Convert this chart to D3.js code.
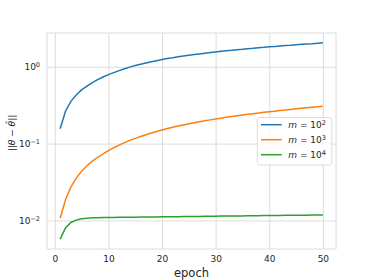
<!DOCTYPE html>
<html>
<head>
<meta charset="utf-8">
<script src="https://cdn.jsdelivr.net/npm/d3@7"></script>
<style>
  body { margin: 0; background: #fff; }
  text { font-family: "DejaVu Sans", sans-serif; fill: #262626; }
</style>
</head>
<body>
<div id="chart"></div>
<script>
// values, one per epoch (1..50)
var epochs = d3.range(1, 51);
var m1e2 = [0.156, 0.264, 0.355, 0.43, 0.50, 0.56, 0.62, 0.68, 0.735, 0.79,
            0.84, 0.89, 0.94, 0.99, 1.04, 1.08, 1.12, 1.16, 1.20, 1.24,
            1.28, 1.31, 1.35, 1.38, 1.41, 1.44, 1.47, 1.50, 1.53, 1.56,
            1.59, 1.62, 1.64, 1.67, 1.69, 1.72, 1.74, 1.77, 1.79, 1.82,
            1.84, 1.87, 1.89, 1.91, 1.94, 1.96, 1.98, 2.00, 2.03, 2.05];
var m1e3 = [0.0107, 0.0186, 0.0272, 0.0355, 0.0436, 0.0514, 0.0590, 0.0664, 0.0737, 0.0810,
            0.0884, 0.0957, 0.1029, 0.1100, 0.1170, 0.1239, 0.1307, 0.1374, 0.1440, 0.1505,
            0.1568, 0.1630, 0.1691, 0.1751, 0.1810, 0.1868, 0.1925, 0.1981, 0.2036, 0.2090,
            0.2143, 0.2196, 0.2248, 0.2300, 0.2351, 0.2402, 0.2452, 0.2501, 0.2550, 0.2598,
            0.2646, 0.2693, 0.2740, 0.2786, 0.2832, 0.2877, 0.2922, 0.2966, 0.3010, 0.3053];
var m1e4 = [0.0057, 0.0080, 0.0094, 0.0101, 0.0105, 0.0107, 0.0108, 0.01085, 0.0109, 0.01093,
            0.01095, 0.01097, 0.01099, 0.01101, 0.01103, 0.01105, 0.01108, 0.01110, 0.01112, 0.01114,
            0.01116, 0.01118, 0.01120, 0.01123, 0.01125, 0.01127, 0.01129, 0.01131, 0.01133, 0.01136,
            0.01138, 0.01140, 0.01142, 0.01144, 0.01146, 0.01149, 0.01151, 0.01153, 0.01155, 0.01157,
            0.01159, 0.01162, 0.01164, 0.01166, 0.01168, 0.01170, 0.01172, 0.01175, 0.01177, 0.01180];
var seriesNames = ["2", "3", "4"];   // exponent in m = 10^k
var colors = ["#1f77b4", "#ff7f0e", "#2ca02c"];
var xTicks = [0, 10, 20, 30, 40, 50];
var yTicks = [0.01, 0.1, 1];
var yTickExp = ["\u22122", "\u22121", "0"];

var allSeries = [m1e2, m1e3, m1e4];

//Dimensions and Margins
var margin = { top: 33, right: 38, bottom: 31, left: 47 },
    width = 374 - margin.left - margin.right,
    height = 280 - margin.top - margin.bottom;

var svg = d3.select("#chart")
    .append("svg")
    .attr("width", 374)
    .attr("height", 280)
    .append("g")
    .attr("transform", "translate(" + margin.left + "," + margin.top + ")");

//X scale with matplotlib style 5% margins
var xpad = (50 - 1) * 0.05;
var x = d3.scaleLinear()
    .domain([1 - xpad, 50 + xpad])
    .range([0, width]);

//Y log scale, 5% margin in log space
var allVals = [].concat(m1e2, m1e3, m1e4);
var lo = Math.log10(d3.min(allVals)), hi = Math.log10(d3.max(allVals));
var lpad = (hi - lo) * 0.05;
var y = d3.scaleLog()
    .domain([Math.pow(10, lo - lpad), Math.pow(10, hi + lpad)])
    .range([height, 0]);

//Grid + x axis
var gx = svg.append("g")
    .attr("transform", "translate(0," + height + ")")
    .call(d3.axisBottom(x).tickValues(xTicks).tickSize(-height).tickPadding(7).tickFormat(d3.format("d")));
gx.select(".domain").remove();
gx.selectAll("line").attr("stroke", "#dcdcdc").attr("stroke-width", 1);
gx.selectAll("text").style("font-size", "9px").attr("fill", "#262626");

//Grid + y axis
var gy = svg.append("g")
    .call(d3.axisLeft(y).tickValues(yTicks).tickSize(-width).tickPadding(7).tickFormat(""));
gy.select(".domain").remove();
gy.selectAll("line").attr("stroke", "#dcdcdc").attr("stroke-width", 1);
gy.selectAll(".tick text").each(function (d, i) {
    var t = d3.select(this).style("font-size", "9px").attr("fill", "#262626");
    t.append("tspan").text("10");
    t.append("tspan").attr("dy", "-0.45em").style("font-size", "6.5px").text(yTickExp[i]);
});

//Frame
svg.append("rect")
    .attr("width", width)
    .attr("height", height)
    .attr("fill", "none")
    .attr("stroke", "#dcdcdc")
    .attr("stroke-width", 1);

//Lines
var line = d3.line()
    .x(function (d, i) { return x(epochs[i]); })
    .y(function (d) { return y(d); });

svg.selectAll(".series")
    .data(allSeries)
    .enter()
    .append("path")
    .attr("d", line)
    .attr("fill", "none")
    .attr("stroke", function (d, i) { return colors[i]; })
    .attr("stroke-width", 1.5);

//Legend
var legend = svg.append("g")
    .attr("transform", "translate(" + (width - 78.7) + "," + (117.5 - margin.top) + ")");
legend.append("rect")
    .attr("width", 74.5)
    .attr("height", 47.5)
    .attr("rx", 2.5)
    .attr("fill", "white")
    .attr("fill-opacity", 0.8)
    .attr("stroke", "#dcdcdc")
    .attr("stroke-width", 1);
seriesNames.forEach(function (k, i) {
    var row = legend.append("g")
        .attr("transform", "translate(0," + (7.2 + i * 15) + ")");
    row.append("line")
        .attr("x1", 3.7).attr("x2", 24.4)
        .attr("stroke", colors[i]).attr("stroke-width", 1.5);
    var t = row.append("text")
        .attr("x", 31)
        .attr("dy", "0.35em")
        .style("font-size", "9px");
    t.append("tspan").style("font-style", "italic").text("m");
    t.append("tspan").text(" = 10");
    t.append("tspan").attr("dy", "-0.45em").style("font-size", "6.5px").text(k);
});

//X Axis label
svg.append("text")
    .attr("x", width / 2)
    .attr("y", height + 27.5)
    .attr("text-anchor", "middle")
    .style("font-size", "11.5px")
    .text("epoch");

//Y Axis label
var yl = svg.append("text")
    .attr("transform", "translate(" + (15 - margin.left) + "," + (133 - margin.top) + ")rotate(-90)")
    .attr("text-anchor", "middle")
    .style("font-size", "9px");
yl.append("tspan").text("||");
yl.append("tspan").style("font-style", "italic").text("\u03b8");
yl.append("tspan").text(" \u2212 ");
yl.append("tspan").style("font-style", "italic").text("\u03b8\u0302");
yl.append("tspan").text("||");
</script>
</body>
</html>
